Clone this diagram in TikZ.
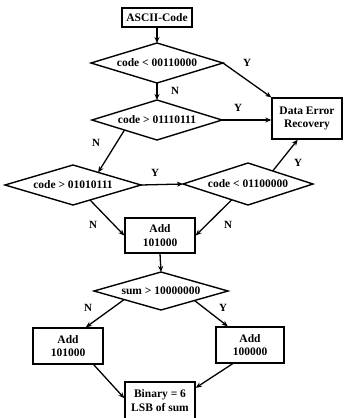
\documentclass[tikz,border=0pt]{standalone}
\usepackage{fontspec}
\setmainfont{Liberation Serif}
\usetikzlibrary{arrows.meta,calc}
\begin{document}
\begin{tikzpicture}[x=1pt,y=-1pt,
  every node/.style={font=\fontsize{11.5}{13.5}\selectfont\bfseries},
  procbox/.style={draw,line width=1.4pt,align=center,inner sep=0pt,minimum width=70pt},
  dline/.style={line width=1.4pt,line join=miter},
  flow/.style={line width=1.3pt,-{Stealth[length=6pt,width=5pt]}},
  lbl/.style={inner sep=0pt,font=\fontsize{11}{13}\selectfont\bfseries}]
\useasboundingbox (0,0) rectangle (347,418);
% diamond helper: center x,y, half width, half height, name
\newcommand{\mydiamond}[6]{%
  \coordinate (#5n) at (#1,#2-#4);
  \coordinate (#5e) at (#1+#3,#2);
  \coordinate (#5s) at (#1,#2+#4);
  \coordinate (#5w) at (#1-#3,#2);
  \draw[dline] (#5n) -- (#5e) -- (#5s) -- (#5w) -- cycle;
  \node[inner sep=0pt] (#5) at (#1,#2) {#6};}
\node[procbox,minimum height=19pt] (start) at (157,17.5) {ASCII-Code};
\mydiamond{157}{63}{66}{20}{d1}{code < 00110000}
\mydiamond{157}{120}{65}{20}{d2}{code > 01110111}
\node[procbox,minimum height=41pt] (err) at (307,118.5) {Data Error\\Recovery};
\mydiamond{73}{185}{68}{20}{d3}{code > 01010111}
\mydiamond{248}{184}{65}{21}{d4}{code < 01100000}
\node[procbox,minimum height=35pt] (add1) at (160,235.5) {Add\\101000};
\mydiamond{161}{291}{67}{19}{d5}{sum > 10000000}
\node[procbox,minimum height=36pt] (add2) at (68,346) {Add\\101000};
\node[procbox,minimum height=36pt,minimum width=68pt] (add3) at (250,345) {Add\\100000};
\node[procbox,minimum height=37pt] (fin) at (160,400.5) {Binary = 6\\LSB of sum};

\draw[flow] (start.south) -- (d1n);
\draw[flow] (d1e) -- (err.north west);
\draw[flow] (d1s) -- (d2n);
\draw[flow] (d2e) -- (err.west |- d2e);
\draw[flow] ($(d2s)!0.5!(d2w)$) -- ($(d3n)!0.37!(d3e)$);
\draw[flow] (d3e) -- (d4w);
\draw[flow] ($(d4n)!0.38!(d4e)$) -- ($(err.south west)!0.37!(err.south east)$);
\draw[flow] ($(d3s)!0.25!(d3e)$) -- (add1.west);
\draw[flow] ($(d4s)!0.25!(d4w)$) -- (add1.east);
\draw[flow] (add1.south) -- (d5n);
\draw[flow] ($(d5s)!0.55!(d5w)$) -- ($(add2.north west)!0.75!(add2.north east)$);
\draw[flow] ($(d5s)!0.5!(d5e)$) -- ($(add3.north west)!0.18!(add3.north east)$);
\draw[flow] ($(add2.south west)!0.86!(add2.south east)$) -- ($(fin.north west)!0.44!(fin.south west)$);
\draw[flow] ($(add3.south west)!0.25!(add3.south east)$) -- ($(fin.north east)!0.17!(fin.south east)$);

\node[lbl] (y1) at (247,63) {Y};
\node[lbl] (n1) at (175,91) {N};
\node[lbl] (y2) at (238,108) {Y};
\node[lbl] (n2) at (96,143) {N};
\node[lbl] (y3) at (155,173) {Y};
\node[lbl] (y4) at (298,163) {Y};
\node[lbl] (n3) at (93,225) {N};
\node[lbl] (n4) at (228,225) {N};
\node[lbl] (n5) at (88,308) {N};
\node[lbl] (y5) at (223,308) {Y};
\end{tikzpicture}
\end{document}
